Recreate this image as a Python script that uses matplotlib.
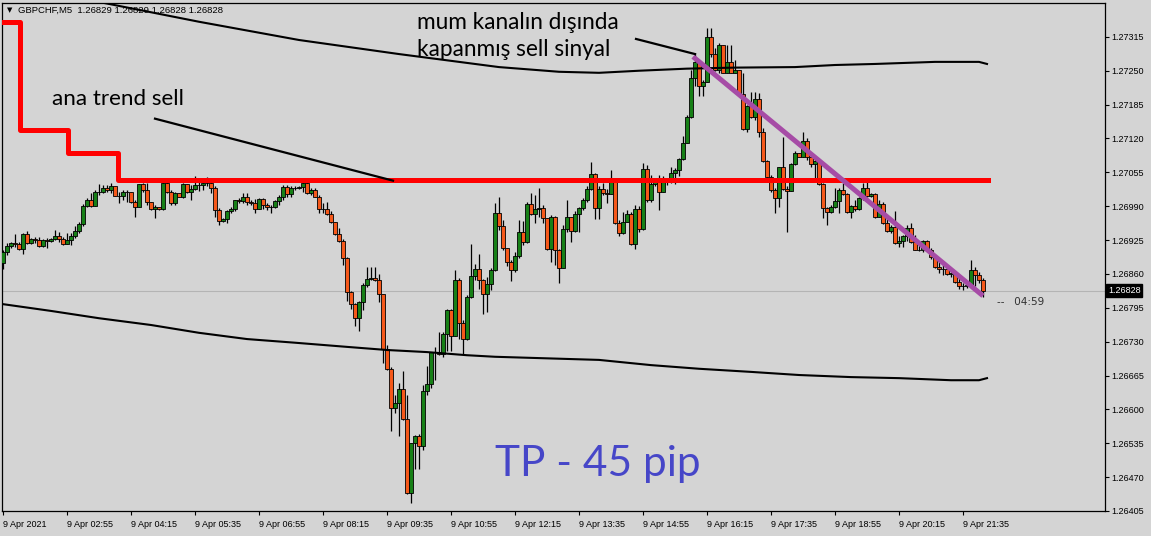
import matplotlib
matplotlib.use("Agg")
import matplotlib.pyplot as plt
import matplotlib.transforms as mtransforms
import numpy as np

# GBPCHF M5, 9 Apr 2021 01:35 .. 22:00, prices in points (1e-5)
first_open = 126881
closes = [126902, 126914, 126919, 126918, 126908, 126937, 126919, 126927, 126926, 126914,
          126925, 126924, 126927, 126933, 126927, 126918, 126925, 126932, 126942, 126956,
          126990, 127002, 126990, 127017, 127017, 127024, 127021, 127029, 127010, 127010,
          127018, 127017, 126999, 126989, 127032, 127021, 126998, 126985, 126989, 126985,
          127034, 127018, 126996, 127016, 127008, 127032, 127018, 127023, 127031, 127031,
          127034, 127035, 127024, 126983, 126962, 126966, 126981, 126985, 127001, 127000,
          127008, 126999, 126996, 126985, 127003, 126992, 126989, 126989, 127000, 127008,
          127026, 127013, 127024, 127025, 127026, 127035, 127015, 127021, 127008, 126984,
          126985, 126975, 126959, 126936, 126924, 126890, 126826, 126802, 126775, 126807,
          126839, 126850, 126852, 126848, 126821, 126715, 126677, 126602, 126612, 126639,
          126581, 126439, 126535, 126549, 126530, 126635, 126648, 126710, 126711, 126706,
          126745, 126791, 126741, 126848, 126765, 126735, 126816, 126856, 126870, 126848,
          126821, 126840, 126868, 126977, 126952, 126909, 126883, 126868, 126894, 126941,
          126922, 126994, 126975, 126984, 126986, 126967, 126907, 126970, 126906, 126871,
          126946, 126970, 126943, 126975, 126986, 127002, 127023, 127051, 126987, 127023,
          127015, 127013, 127038, 126957, 126938, 126960, 126975, 126918, 126984, 126946,
          127061, 127002, 127033, 127037, 127018, 127042, 127037, 127054, 127060, 127080,
          127112, 127162, 127236, 127266, 127220, 127229, 127314, 127282, 127252, 127300,
          127246, 127266, 127246, 127252, 127206, 127138, 127183, 127162, 127195, 127133,
          127077, 127047, 127021, 127005, 127065, 127023, 127020, 127071, 127092, 127085,
          127116, 127084, 127071, 127077, 127033, 126986, 126978, 126988, 127000, 127021,
          127013, 126978, 126990, 126984, 127005, 127024, 127010, 127013, 126969, 126994,
          126957, 126943, 126950, 126920, 126923, 126932, 126948, 126922, 126906, 126905,
          126923, 126906, 126892, 126873, 126869, 126869, 126860, 126861, 126845, 126836,
          126836, 126839, 126868, 126858, 126848, 126828]
highs = [126906, 126919, 126922, 126937, 126921, 126939, 126942, 126929, 126930, 126930,
         126927, 126929, 126929, 126944, 126941, 126931, 126939, 126938, 126952, 126960,
         126995, 127005, 127015, 127021, 127032, 127031, 127031, 127034, 127029, 127018,
         127021, 127021, 127018, 127002, 127033, 127034, 127034, 126999, 126992, 126989,
         127037, 127037, 127021, 127018, 127016, 127034, 127029, 127031, 127048, 127040,
         127044, 127047, 127037, 127028, 126986, 126967, 126983, 126989, 127002, 127005,
         127015, 127015, 127002, 127003, 127005, 127005, 126996, 126992, 127002, 127012,
         127031, 127031, 127029, 127029, 127028, 127040, 127037, 127024, 127024, 127012,
         126996, 126999, 126981, 126960, 126948, 126928, 126892, 126828, 126804, 126809,
         126842, 126874, 126874, 126873, 126860, 126820, 126724, 126682, 126628, 126650,
         126674, 126628, 126535, 126551, 126552, 126647, 126683, 126711, 126720, 126749,
         126749, 126792, 126792, 126868, 126852, 126772, 126820, 126918, 126880, 126898,
         126850, 126855, 126871, 126996, 127008, 126964, 126910, 126887, 126902, 126964,
         126962, 126999, 127015, 127012, 127024, 126992, 126967, 126973, 126971, 126908,
         126954, 127002, 126957, 126980, 126989, 127005, 127029, 127075, 127053, 127028,
         127035, 127023, 127060, 127042, 126964, 126978, 126983, 126978, 126992, 126990,
         127072, 127069, 127050, 127042, 127050, 127048, 127044, 127066, 127063, 127082,
         127125, 127165, 127252, 127284, 127271, 127232, 127332, 127332, 127294, 127304,
         127300, 127300, 127300, 127271, 127252, 127245, 127184, 127210, 127210, 127207,
         127140, 127079, 127050, 127024, 127066, 127123, 127028, 127072, 127095, 127092,
         127133, 127121, 127092, 127085, 127079, 127034, 126989, 126992, 127024, 127024,
         127034, 127015, 126992, 127002, 127008, 127035, 127037, 127015, 127015, 127002,
         126999, 126967, 126954, 126980, 126932, 126935, 126954, 126957, 126935, 126916,
         126925, 126925, 126909, 126893, 126884, 126877, 126871, 126864, 126862, 126852,
         126842, 126841, 126887, 126874, 126864, 126852]
lows = [126870, 126896, 126910, 126912, 126906, 126898, 126918, 126918, 126920, 126912,
        126912, 126910, 126921, 126925, 126922, 126916, 126918, 126916, 126929, 126938,
        126952, 126989, 126989, 126990, 127012, 127015, 127018, 127016, 127010, 126997,
        127002, 126999, 126996, 126970, 126988, 127018, 126992, 126983, 126967, 126983,
        126983, 127016, 126992, 126992, 127007, 127005, 127016, 127002, 127021, 127020,
        127021, 127029, 127016, 126970, 126954, 126960, 126958, 126977, 126980, 126996,
        126996, 126992, 126992, 126977, 126984, 126984, 126983, 126977, 126986, 126992,
        127002, 127008, 127008, 127022, 127023, 127018, 127013, 127012, 127007, 126977,
        126977, 126973, 126957, 126935, 126922, 126877, 126809, 126792, 126760, 126751,
        126791, 126834, 126848, 126847, 126807, 126690, 126676, 126559, 126593, 126548,
        126580, 126438, 126421, 126485, 126485, 126523, 126628, 126642, 126656, 126704,
        126701, 126712, 126712, 126743, 126736, 126706, 126733, 126813, 126848, 126832,
        126784, 126787, 126829, 126866, 126944, 126906, 126875, 126846, 126864, 126891,
        126916, 126919, 126973, 126958, 126970, 126958, 126906, 126883, 126877, 126843,
        126871, 126941, 126922, 126941, 126941, 126983, 126999, 127021, 126965, 126965,
        127012, 126996, 127013, 126956, 126933, 126937, 126960, 126916, 126907, 126941,
        126944, 126999, 126999, 127029, 126983, 127017, 127031, 127034, 127033, 127048,
        127079, 127111, 127159, 127220, 127202, 127202, 127229, 127277, 127250, 127245,
        127245, 127245, 127245, 127246, 127204, 127136, 127133, 127159, 127156, 127122,
        127075, 127037, 127018, 126977, 126989, 127021, 126941, 127020, 127069, 127084,
        127085, 127079, 127066, 127044, 127031, 126967, 126954, 126977, 126986, 126977,
        127012, 126977, 126967, 126980, 126983, 127002, 127008, 127008, 126967, 126969,
        126956, 126941, 126938, 126918, 126912, 126912, 126924, 126919, 126905, 126904,
        126903, 126904, 126888, 126871, 126861, 126858, 126858, 126855, 126842, 126832,
        126829, 126833, 126836, 126836, 126842, 126816]

# channel lines (bar index, price)
upper_idx = [0, 24, 49, 74, 99, 124, 139, 149, 159, 171, 183, 198, 208, 218, 233, 244, 246]
upper_val = [1.27419, 1.27382, 1.27344, 1.27309, 1.27282, 1.27257, 1.27248, 1.27246, 1.27250,
             1.27254, 1.27256, 1.27257, 1.27261, 1.27263, 1.27267, 1.27267, 1.27263]
lower_idx = [0, 12, 24, 37, 49, 61, 73, 86, 96, 106, 116, 123, 149, 162, 174, 187, 199,
             212, 224, 237, 244, 246]
lower_val = [1.26802, 1.26789, 1.26775, 1.26762, 1.26747, 1.26735, 1.26728, 1.26720, 1.26714,
             1.26710, 1.26704, 1.26701, 1.26695, 1.26685, 1.26678, 1.26672, 1.26666, 1.26662,
             1.26660, 1.26656, 1.26656, 1.26660]

# red trend steps
red_start = [-1, 4.25, 16.25, 28.75, 246.25]
red_level = [1.27344, 1.27136, 1.27092, 1.27040, 1.27040]

# drawn objects
purple_idx = [172.5, 245]
purple_val = [1.27277, 1.26818]
arrow1_idx = [38, 97.5]
arrow1_val = [1.27158, 1.27039]
arrow2_idx = [158.25, 173]
arrow2_val = [1.27311, 1.27282]

bid = 1.26828
y_ticks = [1.26405 + 0.00065 * k for k in range(15)]
x_tick_idx = list(range(0, 241, 16))
x_tick_labels = ["9 Apr 2021", "9 Apr 02:55", "9 Apr 04:15", "9 Apr 05:35", "9 Apr 06:55",
                 "9 Apr 08:15", "9 Apr 09:35", "9 Apr 10:55", "9 Apr 12:15", "9 Apr 13:35",
                 "9 Apr 14:55", "9 Apr 16:15", "9 Apr 17:35", "9 Apr 18:55", "9 Apr 20:15",
                 "9 Apr 21:35"]

bg = "#d4d4d4"
W, H = 1151, 536
fig = plt.figure(figsize=(W / 100, H / 100), dpi=100, facecolor=bg)
ax = fig.add_axes([2 / W, 25 / H, 1103 / W, 508 / H], facecolor=bg)

c = np.array(closes) / 1e5
o = np.concatenate([[first_open], closes[:-1]]) / 1e5
h = np.array(highs) / 1e5
l = np.array(lows) / 1e5
x = np.arange(len(c))

up = c >= o
colors = np.where(up, "#178017", "#f5581a")
hi = np.maximum(h, np.maximum(o, c))
lo = np.minimum(l, np.minimum(o, c))
ax.vlines(x, lo, hi, color="black", lw=0.9, zorder=2)
ax.bar(x, np.abs(c - o), bottom=np.minimum(o, c), width=0.78, color=colors,
       edgecolor="black", linewidth=0.6, zorder=3)

ax.axhline(bid, color="#b4b4b4", lw=0.8, zorder=1)

ax.plot(upper_idx, upper_val, color="black", lw=1.5, zorder=4)
ax.plot(lower_idx, lower_val, color="black", lw=1.5, zorder=4)
ax.plot(red_start, red_level, drawstyle="steps-post", color="#ff0000", lw=3.6, zorder=5)
ax.plot(purple_idx, purple_val, color="#a64ca6", lw=3.6, solid_capstyle="butt", zorder=6)
ax.plot(arrow1_idx, arrow1_val, color="black", lw=1.6, zorder=6)
ax.plot(arrow2_idx, arrow2_val, color="black", lw=1.6, zorder=6)

ax.set_xlim(-0.25, 275.5)
ax.set_ylim(1.26405, 1.27380)

ax.yaxis.tick_right()
ax.set_yticks(y_ticks)
ax.set_yticklabels([f"{v:.5f}" for v in y_ticks], fontsize=6.5, family="Liberation Sans")
ax.set_xticks(x_tick_idx)
ax.set_xticklabels(x_tick_labels, fontsize=6.5, family="Liberation Sans", ha="left")
ax.tick_params(axis="y", direction="out", length=3, width=0.8, pad=1.5)
ax.tick_params(axis="x", direction="out", length=3, width=0.8, pad=3.5)
for s in ax.spines.values():
    s.set_linewidth(0.9)

# current price box on the scale
trans = mtransforms.blended_transform_factory(ax.transAxes, ax.transData)
ax.text(1 + 3 / 1103, bid, f"{bid:.5f}", transform=trans, ha="left", va="center",
        fontsize=6.5, family="Liberation Sans", color="white",
        bbox=dict(facecolor="black", edgecolor="black", pad=1.2))
ax.annotate("--   04:59", xy=(len(c) + 2.5, bid), xytext=(0, -8), textcoords="offset points",
            ha="left", va="center", fontsize=7.5, color="#303030")

# header
fig.text(7 / W, 1 - 10 / H, "\u25bc", fontsize=5, va="center", ha="left")
fig.text(18 / W, 1 - 10 / H, "GBPCHF,M5  1.26829 1.26829 1.26828 1.26828",
         fontsize=6.8, family="Liberation Sans", va="center", ha="left")

# annotations
fig.text(52 / W, 1 - 105 / H, "ana trend sell", fontsize=16.1, family="Lato", va="baseline")
fig.text(417 / W, 1 - 29 / H, "mum kanalın dışında", fontsize=16.3, family="Lato",
         va="baseline")
fig.text(417 / W, 1 - 56 / H, "kapanmış sell sinyal", fontsize=16.3, family="Lato",
         va="baseline")
fig.text(495 / W, 1 - 476 / H, "TP - 45 pip", fontsize=30.5, family="Lato", color="#4646c8",
         va="baseline")

fig.savefig("out.png", dpi=100, facecolor=bg)
